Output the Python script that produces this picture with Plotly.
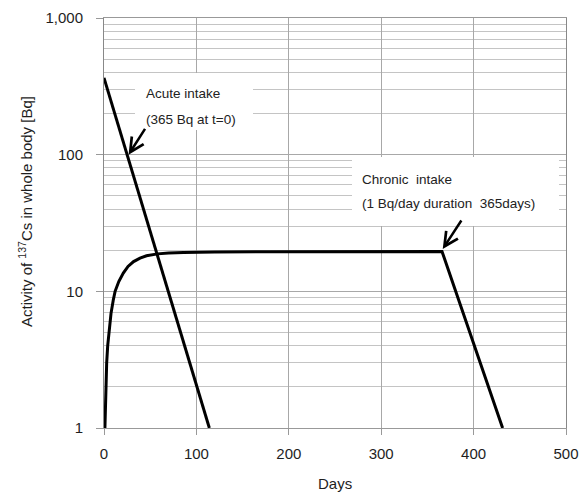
import plotly.graph_objects as go

# Acute intake (365 Bq at t=0)
acute_days = [0, 26.5, 58, 68, 114]
acute_bq = [365, 93, 18.1, 10.8, 1.0]

# Chronic intake (1 Bq/day for 365 days)
chronic_days = [1, 1.5, 2.2, 2.9, 4, 5.1, 7.6, 10, 12, 16, 20.9, 26, 32, 39, 46, 58, 70, 86, 120, 180, 365.8, 431.4]
chronic_bq = [1.0, 1.5, 2.0, 3.0, 4.0, 4.9, 6.9, 8.6, 10.0, 11.8, 13.6, 15.2, 16.5, 17.5, 18.2, 18.8, 19.1, 19.2, 19.4, 19.5, 19.6, 1.0]

y_tickvals = [1, 10, 100, 1000]
y_ticktext = ["1", "10", "100", "1,000"]
y_minor = [m * d for d in (1, 10, 100) for m in range(2, 10)]
x_tickvals = [0, 100, 200, 300, 400, 500]

FONT = "Arial, Liberation Sans, sans-serif"
GRID = "#a8a8a8"
TXT = "#1e1e1e"

fig = go.Figure()
fig.add_trace(go.Scatter(x=acute_days, y=acute_bq, mode="lines",
                         line=dict(color="black", width=3), showlegend=False))
fig.add_trace(go.Scatter(x=chronic_days, y=chronic_bq, mode="lines",
                         line=dict(color="black", width=3), showlegend=False))

fig.update_layout(
    width=587, height=494,
    margin=dict(l=104, r=21, t=18, b=66, autoexpand=False),
    paper_bgcolor="white", plot_bgcolor="white",
    font=dict(family=FONT, size=15, color=TXT),
)
fig.update_xaxes(
    range=[0, 500], tickvals=x_tickvals, showgrid=True, gridcolor=GRID, gridwidth=1,
    ticks="outside", ticklen=6, tickcolor="#999", tickwidth=1,
    showline=True, linecolor="#999", mirror=True, zeroline=False, automargin=False,
    ticklabelstandoff=6, tickfont=dict(size=15, color=TXT),
)
fig.update_yaxes(
    type="log", range=[0, 3], tickvals=y_tickvals, ticktext=y_ticktext,
    showgrid=True, gridcolor=GRID, gridwidth=1,
    minor=dict(tickmode="array", tickvals=y_minor, showgrid=True, gridcolor="#c4c4c4",
               gridwidth=1, ticks=""),
    ticks="outside", ticklen=7, tickcolor="#999", tickwidth=1,
    showline=True, linecolor="#888", mirror=True, zeroline=False, automargin=False,
    ticklabelstandoff=10, tickfont=dict(size=15, color=TXT),
)


def px_x(p):
    return (p - 104) / 462


def px_y(p):
    return (428 - p) / 410


# Axis titles
fig.add_annotation(text="Activity of <sup>137</sup>Cs in whole body [Bq]", textangle=-90,
                   xref="paper", yref="paper", x=px_x(25), y=px_y(212),
                   showarrow=False, font=dict(size=15, color=TXT), xanchor="center", yanchor="middle")
fig.add_annotation(text="Days", xref="paper", yref="paper", x=px_x(335), y=px_y(483),
                   showarrow=False, font=dict(size=15, color=TXT), xanchor="center", yanchor="middle")

# White label boxes
fig.add_shape(type="rect", xref="paper", yref="paper", x0=px_x(135), x1=px_x(253), y0=px_y(130), y1=px_y(73),
              fillcolor="white", line=dict(width=0), layer="above")
fig.add_shape(type="rect", xref="paper", yref="paper", x0=px_x(352), x1=px_x(559), y0=px_y(226), y1=px_y(157),
              fillcolor="white", line=dict(width=0), layer="above")

labels = [("Acute intake", 144, 93), ("(365 Bq at t=0)", 144, 119),
          ("Chronic  intake", 359.5, 179), ("(1 Bq/day duration  365days)", 359.5, 203.5)]
for t, lx, ly in labels:
    fig.add_annotation(text=t, xref="paper", yref="paper", x=px_x(lx), y=px_y(ly), xanchor="left",
                       yanchor="middle", showarrow=False, font=dict(size=13.5, color="#222"))

# Arrows
fig.add_annotation(x=26.6, y=2.0, xref="x", yref="y", text="", showarrow=True, arrowhead=5,
                   arrowsize=1.1, arrowwidth=2.5, arrowcolor="black", ax=17.4, ay=-27.3, standoff=0)
fig.add_annotation(x=366.6, y=1.31, xref="x", yref="y", text="", showarrow=True, arrowhead=5,
                   arrowsize=1.1, arrowwidth=2.5, arrowcolor="black", ax=19.6, ay=-30, standoff=0)

fig.write_html("out.html", config={"displayModeBar": False},
               post_script="document.body.style.margin='0';document.body.style.padding='0';")
